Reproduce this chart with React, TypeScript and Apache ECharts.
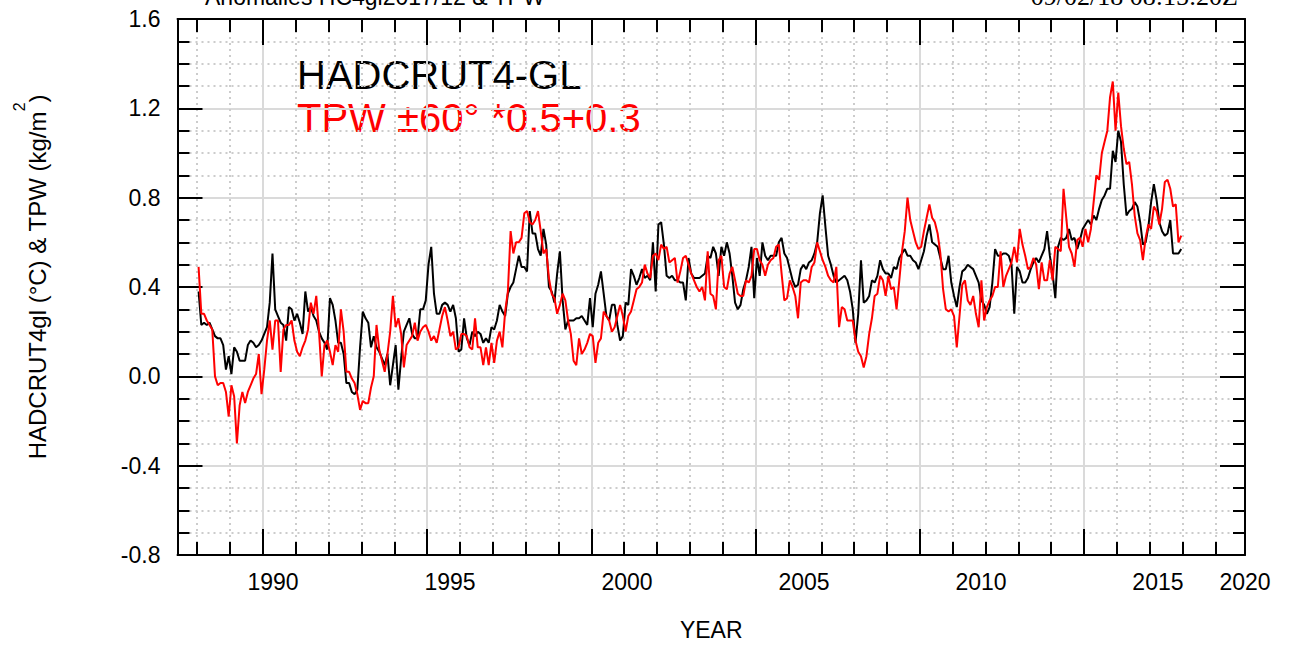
import React, { useEffect, useRef } from 'react';
import * as echarts from 'echarts';

// ---------- data (monthly, Jan 1988 .. Dec 2017) ----------
const START_YEAR = 1988;

const hadcrut4gl: number[] = [
  0.38, 0.23, 0.24, 0.23, 0.24, 0.21, 0.18, 0.17, 0.17, 0.14, 0.03, 0.09,
  0.01, 0.13, 0.11, 0.07, 0.07, 0.07, 0.14, 0.16, 0.15, 0.13, 0.14, 0.16,
  0.19, 0.22, 0.33, 0.55, 0.30, 0.27, 0.24, 0.23, 0.16, 0.31, 0.30, 0.25,
  0.28, 0.24, 0.19, 0.38, 0.29, 0.31, 0.27, 0.25, 0.20, 0.17, 0.15, 0.12,
  0.35, 0.32, 0.25, 0.15, 0.15, 0.10, -0.03, -0.03, -0.07, -0.08, -0.06, 0.13,
  0.29, 0.26, 0.24, 0.13, 0.18, 0.13, 0.11, 0.08, 0.05, 0.10, -0.04, 0.05,
  0.14, -0.06, 0.08, 0.20, 0.23, 0.26, 0.19, 0.17, 0.17, 0.30, 0.30, 0.34,
  0.50, 0.58, 0.37, 0.28, 0.28, 0.32, 0.33, 0.32, 0.29, 0.32, 0.26, 0.11,
  0.12, 0.26, 0.17, 0.14, 0.20, 0.18, 0.20, 0.19, 0.15, 0.17, 0.15, 0.22,
  0.21, 0.25, 0.32, 0.29, 0.27, 0.37, 0.40, 0.42, 0.48, 0.54, 0.49, 0.49,
  0.47, 0.74, 0.64, 0.64, 0.57, 0.54, 0.66, 0.59, 0.40, 0.38, 0.33, 0.46,
  0.56, 0.34, 0.21, 0.25, 0.25, 0.25, 0.26, 0.26, 0.27, 0.25, 0.23, 0.35,
  0.22, 0.37, 0.41, 0.47, 0.37, 0.27, 0.25, 0.32, 0.32, 0.23, 0.16, 0.18,
  0.33, 0.32, 0.48, 0.45, 0.41, 0.44, 0.48, 0.44, 0.45, 0.43, 0.60, 0.38,
  0.68, 0.69, 0.59, 0.45, 0.44, 0.45, 0.43, 0.43, 0.42, 0.42, 0.34, 0.53,
  0.46, 0.44, 0.44, 0.44, 0.45, 0.46, 0.54, 0.53, 0.58, 0.55, 0.45, 0.58,
  0.54, 0.60, 0.55, 0.45, 0.33, 0.30, 0.32, 0.39, 0.43, 0.49, 0.58, 0.35,
  0.53, 0.45, 0.60, 0.54, 0.52, 0.54, 0.54, 0.54, 0.60, 0.62, 0.55, 0.53,
  0.48, 0.43, 0.40, 0.41, 0.48, 0.50, 0.48, 0.51, 0.52, 0.55, 0.60, 0.73,
  0.81, 0.67, 0.54, 0.50, 0.45, 0.42, 0.43, 0.44, 0.45, 0.43, 0.38, 0.30,
  0.15, 0.28, 0.52, 0.33, 0.34, 0.36, 0.43, 0.42, 0.45, 0.52, 0.48, 0.46,
  0.46, 0.44, 0.49, 0.48, 0.53, 0.55, 0.57, 0.54, 0.54, 0.52, 0.51, 0.48,
  0.52, 0.56, 0.63, 0.68, 0.60, 0.59, 0.58, 0.53, 0.48, 0.48, 0.54, 0.42,
  0.36, 0.31, 0.40, 0.47, 0.48, 0.50, 0.49, 0.48, 0.45, 0.42, 0.34, 0.32,
  0.28, 0.31, 0.42, 0.57, 0.54, 0.54, 0.55, 0.55, 0.54, 0.50, 0.28, 0.49,
  0.47, 0.42, 0.42, 0.44, 0.48, 0.51, 0.53, 0.51, 0.54, 0.57, 0.65, 0.54,
  0.46, 0.35, 0.58, 0.62, 0.61, 0.62, 0.66, 0.61, 0.62, 0.57, 0.61, 0.66,
  0.68, 0.70, 0.68, 0.72, 0.70, 0.75, 0.79, 0.81, 0.84, 0.84, 1.01, 0.96,
  1.10, 1.05, 0.86, 0.72, 0.74, 0.75, 0.78, 0.76, 0.69, 0.59, 0.60, 0.67,
  0.78, 0.86, 0.79, 0.69, 0.65, 0.63, 0.64, 0.70, 0.55, 0.55, 0.55, 0.57,
];

const tpwScaled: number[] = [
  0.49, 0.28, 0.28, 0.25, 0.23, 0.21, 0.00, -0.04, -0.03, -0.03, -0.07, -0.18,
  -0.04, -0.09, -0.30, -0.13, -0.07, -0.12, -0.07, -0.04, -0.01, 0.01, 0.10, -0.08,
  0.03, 0.16, 0.25, 0.12, 0.25, 0.25, 0.02, 0.21, 0.23, 0.23, 0.25, 0.16,
  0.11, 0.09, 0.13, 0.16, 0.21, 0.33, 0.28, 0.36, 0.20, 0.00, 0.14, 0.16,
  0.11, 0.05, 0.14, 0.11, 0.30, 0.20, 0.02, 0.02, -0.01, -0.03, -0.08, -0.15,
  -0.11, -0.12, -0.12, -0.05, 0.00, 0.23, 0.12, 0.07, 0.02, 0.10, 0.20, 0.36,
  0.22, 0.26, 0.19, 0.04, 0.14, 0.16, 0.18, 0.24, 0.16, 0.20, 0.22, 0.23,
  0.20, 0.16, 0.18, 0.15, 0.21, 0.27, 0.31, 0.25, 0.18, 0.20, 0.12, 0.13,
  0.19, 0.19, 0.18, 0.13, 0.12, 0.26, 0.13, 0.13, 0.05, 0.13, 0.05, 0.15,
  0.06, 0.16, 0.20, 0.13, 0.29, 0.38, 0.65, 0.55, 0.60, 0.60, 0.62, 0.73,
  0.74, 0.69, 0.68, 0.70, 0.74, 0.65, 0.55, 0.57, 0.44, 0.37, 0.35, 0.28,
  0.32, 0.37, 0.34, 0.25, 0.19, 0.07, 0.05, 0.17, 0.10, 0.12, 0.15, 0.19,
  0.18, 0.06, 0.15, 0.17, 0.29, 0.27, 0.25, 0.20, 0.22, 0.27, 0.32, 0.27,
  0.20, 0.27, 0.29, 0.34, 0.39, 0.40, 0.42, 0.50, 0.46, 0.44, 0.54, 0.55,
  0.52, 0.59, 0.57, 0.58, 0.51, 0.52, 0.53, 0.42, 0.47, 0.53, 0.54, 0.50,
  0.46, 0.43, 0.40, 0.38, 0.40, 0.34, 0.56, 0.37, 0.36, 0.30, 0.52, 0.54,
  0.40, 0.39, 0.46, 0.49, 0.43, 0.37, 0.36, 0.36, 0.43, 0.42, 0.45, 0.57,
  0.57, 0.52, 0.50, 0.45, 0.50, 0.52, 0.53, 0.58, 0.59, 0.46, 0.34, 0.35,
  0.43, 0.40, 0.36, 0.26, 0.42, 0.43, 0.43, 0.42, 0.49, 0.51, 0.60, 0.56,
  0.52, 0.49, 0.45, 0.43, 0.42, 0.49, 0.22, 0.31, 0.30, 0.25, 0.25, 0.25,
  0.16, 0.11, 0.09, 0.04, 0.09, 0.19, 0.26, 0.36, 0.37, 0.45, 0.43, 0.36,
  0.45, 0.39, 0.40, 0.30, 0.43, 0.56, 0.65, 0.80, 0.70, 0.65, 0.60, 0.57,
  0.58, 0.65, 0.71, 0.77, 0.71, 0.69, 0.64, 0.55, 0.39, 0.30, 0.29, 0.30,
  0.27, 0.13, 0.27, 0.41, 0.43, 0.34, 0.32, 0.36, 0.28, 0.22, 0.43, 0.25,
  0.31, 0.34, 0.36, 0.40, 0.40, 0.56, 0.40, 0.45, 0.48, 0.51, 0.58, 0.51,
  0.66, 0.59, 0.54, 0.48, 0.49, 0.53, 0.50, 0.39, 0.51, 0.43, 0.43, 0.52,
  0.43, 0.58, 0.57, 0.56, 0.84, 0.71, 0.58, 0.55, 0.49, 0.61, 0.62, 0.58,
  0.66, 0.60, 0.66, 0.78, 0.90, 0.88, 1.00, 1.05, 1.10, 1.25, 1.32, 1.10,
  1.27, 1.12, 1.02, 0.95, 0.96, 0.86, 0.72, 0.64, 0.61, 0.52, 0.62, 0.68,
  0.66, 0.76, 0.74, 0.68, 0.75, 0.87, 0.88, 0.84, 0.76, 0.77, 0.60, 0.63,
];

// tick labels of the year axis (as printed in the reference)
const xTickLabels: string[] = ['1990', '1995', '2000', '2005', '2010', '2015', '2020'];

// ---------- texts ----------
const TITLE_LEFT = 'Anomalies HC4gl2017/12 & TPW';
const TITLE_RIGHT = '09/02/18 08:15:20Z';
const LEGEND_1 = 'HADCRUT4-GL';
const LEGEND_2 = 'TPW \u00B160\u00B0 *0.5+0.3';

// ---------- axis ranges ----------
const X_MIN = 1987.4;
const X_MAX = 2019.9;
const LABEL_MIN = 1987.3; // the printed year labels follow their own spacing
const LABEL_MAX = 2017.46;
const Y_MIN = -0.8;
const Y_MAX = 1.6;
const Y_STEP = 0.4;

const FONT = '"Liberation Sans", Arial, Helvetica, sans-serif';
const SERIF = '"Liberation Serif", "Times New Roman", serif';

const toPairs = (arr: number[]) => arr.map((v, i) => [START_YEAR + (i + 0.5) / 12, v]);

export default function App() {
  const ref = useRef<HTMLDivElement | null>(null);

  useEffect(() => {
    if (!ref.current) return;
    const chart = echarts.init(ref.current, undefined, { renderer: 'svg' });

    const frameLine = { show: true, onZero: false, lineStyle: { color: '#000', width: 2 } };
    const solidGrid = { show: true, lineStyle: { color: '#dadada', width: 2 } };
    const dottedGrid = { show: true, lineStyle: { color: '#cccccc', width: 2, type: [2, 4] } };

    const yearAxisBase = {
      type: 'value',
      min: X_MIN,
      max: X_MAX,
      splitNumber: 5,
      axisLine: frameLine,
      axisTick: { show: true, inside: true, length: 26, lineStyle: { color: '#000', width: 2 } },
      minorTick: { show: true, splitNumber: 5, length: 13, lineStyle: { color: '#000', width: 2 } },
      axisLabel: { show: false },
    };

    const valueAxisBase = {
      type: 'value',
      min: Y_MIN,
      max: Y_MAX,
      interval: Y_STEP,
      axisLine: frameLine,
      axisTick: { show: true, inside: true, length: 25, lineStyle: { color: '#000', width: 2 } },
      minorTick: { show: true, splitNumber: 4, length: 12, lineStyle: { color: '#000', width: 2 } },
    };

    const option = {
      animation: false,
      backgroundColor: '#ffffff',
      grid: { left: 177.5, top: 19, width: 1067.5, height: 537, containLabel: false },
      xAxis: [
        {
          ...yearAxisBase,
          position: 'bottom',
          splitLine: solidGrid,
          minorSplitLine: dottedGrid,
        },
        {
          ...yearAxisBase,
          position: 'top',
          splitLine: { show: false },
          minorSplitLine: { show: false },
        },
        {
          type: 'value',
          position: 'bottom',
          min: LABEL_MIN,
          max: LABEL_MAX,
          splitNumber: 5,
          axisLine: { show: false, onZero: false },
          axisTick: { show: false },
          splitLine: { show: false },
          axisLabel: {
            show: true,
            showMinLabel: false,
            showMaxLabel: true,
            margin: 15,
            fontSize: 23,
            fontFamily: FONT,
            color: '#000',
            formatter: (v: number) => {
              if (Math.abs(v - LABEL_MAX) < 1e-6) return xTickLabels[xTickLabels.length - 1];
              const s = String(Math.round(v));
              return xTickLabels.indexOf(s) >= 0 ? s : '';
            },
          },
          name: 'YEAR',
          nameLocation: 'middle',
          nameGap: 63,
          nameTextStyle: { fontSize: 23, fontFamily: FONT, color: '#000' },
        },
      ],
      yAxis: [
        {
          ...valueAxisBase,
          position: 'left',
          axisLabel: {
            show: true,
            margin: 17,
            fontSize: 23,
            fontFamily: FONT,
            color: '#000',
            formatter: (v: number) => v.toFixed(1),
          },
          splitLine: solidGrid,
          minorSplitLine: dottedGrid,
        },
        {
          ...valueAxisBase,
          position: 'right',
          axisLabel: { show: false },
          splitLine: { show: false },
          minorSplitLine: { show: false },
        },
      ],
      series: [
        {
          type: 'line',
          name: 'HADCRUT4-GL',
          xAxisIndex: 0,
          yAxisIndex: 0,
          data: toPairs(hadcrut4gl),
          symbol: 'none',
          showSymbol: false,
          silent: true,
          lineStyle: { color: '#000000', width: 2 },
          itemStyle: { color: '#000000' },
          z: 3,
        },
        {
          type: 'line',
          name: 'TPW',
          xAxisIndex: 0,
          yAxisIndex: 0,
          data: toPairs(tpwScaled),
          symbol: 'none',
          showSymbol: false,
          silent: true,
          lineStyle: { color: '#ff0000', width: 2 },
          itemStyle: { color: '#ff0000' },
          z: 4,
        },
      ],
      graphic: [
        {
          type: 'text',
          x: 205,
          y: -3.5,
          silent: true,
          style: {
            text: TITLE_LEFT,
            fontSize: 23,
            fontFamily: FONT,
            fill: '#000',
            align: 'left',
            verticalAlign: 'middle',
          },
        },
        {
          type: 'text',
          x: 1238,
          y: -3.8,
          silent: true,
          style: {
            text: TITLE_RIGHT,
            fontSize: 26,
            fontFamily: SERIF,
            fill: '#000',
            align: 'right',
            verticalAlign: 'middle',
          },
        },
        {
          type: 'text',
          x: 297,
          y: 75,
          silent: true,
          style: {
            text: LEGEND_1,
            fontSize: 40,
            fontFamily: FONT,
            fill: '#000',
            align: 'left',
            verticalAlign: 'middle',
          },
        },
        {
          type: 'text',
          x: 297,
          y: 118,
          silent: true,
          style: {
            text: LEGEND_2,
            fontSize: 40,
            fontFamily: FONT,
            fill: '#ff0000',
            align: 'left',
            verticalAlign: 'middle',
          },
        },
        {
          type: 'text',
          x: 30,
          y: 277,
          rotation: Math.PI / 2,
          silent: true,
          style: {
            text: '{a|HADCRUT4gl (\u00B0C) & TPW (kg/m}{s|2}{a|)}',
            align: 'center',
            verticalAlign: 'middle',
            rich: {
              a: { fontSize: 24, fontFamily: FONT, fill: '#000', verticalAlign: 'bottom' },
              s: { fontSize: 16, fontFamily: FONT, fill: '#000', verticalAlign: 'top', padding: [0, 0, 22, 0] },
            },
          },
        },
      ],
    };

    chart.setOption(option as any);
    return () => {
      chart.dispose();
    };
  }, []);

  return (
    <div
      ref={ref}
      style={{ position: 'absolute', left: 0, top: 0, width: 1299, height: 646 }}
    />
  );
}
